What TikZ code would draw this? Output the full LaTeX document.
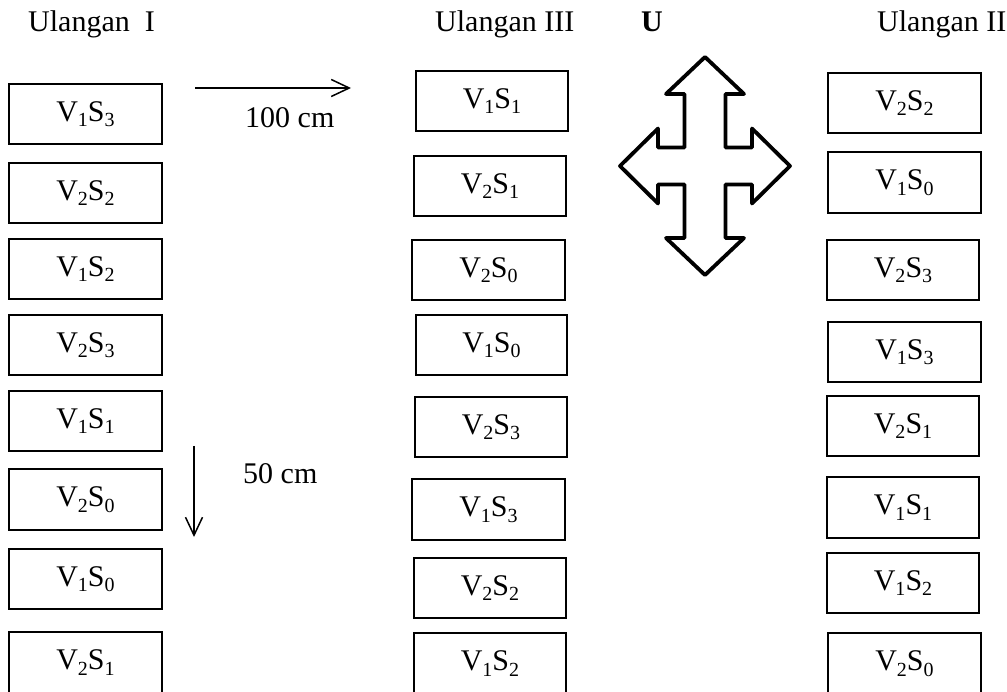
\documentclass[tikz,border=0pt]{standalone}
\usepackage{fontspec}
\setmainfont{Liberation Serif}
\usetikzlibrary{arrows.meta}
\tikzset{
  cell/.style={draw, line width=1.4pt, inner sep=0pt, font=\fontsize{30}{36}\selectfont},
  hdr/.style={anchor=base west, inner sep=0pt, font=\fontsize{30}{36}\selectfont},
  lbl/.style={anchor=base west, inner sep=0pt, font=\fontsize{30}{36}\selectfont},
  dirarrow/.style={line width=1.5pt, -{Straight Barb[length=18pt,width=17pt,line width=1.5pt]}},
  cross/.style={line width=3.8pt, line join=round, draw=black, fill=white}
}
\newcommand{\sbs}[1]{\raisebox{-0.18em}{\fontsize{20}{20}\selectfont #1}}
\newcommand{\vs}[2]{V\sbs{#1}S\sbs{#2}}
\newcommand{\cellbox}[6]{% name, x1, x2, y1, y2, text
  \node[cell, minimum width={#3-#2}, minimum height={#5-#4}] (#1) at ({(#2+#3)/2},{(#4+#5)/2}) {#6};}
\begin{document}
\begin{tikzpicture}[x=1pt, y=-1pt]
\useasboundingbox (0,0) rectangle (1007,692);
% headers
\node[hdr] (h1) at (28,32) {Ulangan\ \ I};
\node[hdr] (h3) at (435,32) {Ulangan III};
\node[hdr, anchor=base] (hu) at (652,32) {\textbf{U}};
\node[hdr] (h2) at (877,32) {Ulangan II};
% column Ulangan I
\cellbox{a1}{9}{162}{84}{144}{\vs13}
\cellbox{a2}{9}{162}{163}{223}{\vs22}
\cellbox{a3}{9}{162}{239}{299}{\vs12}
\cellbox{a4}{9}{162}{315}{375}{\vs23}
\cellbox{a5}{9}{162}{391}{451}{\vs11}
\cellbox{a6}{9}{162}{469}{530}{\vs20}
\cellbox{a7}{9}{162}{549}{609}{\vs10}
\cellbox{a8}{9}{162}{632}{693}{\vs21}
% column Ulangan III
\cellbox{b1}{416}{568}{71}{131}{\vs11}
\cellbox{b2}{414}{566}{156}{216}{\vs21}
\cellbox{b3}{412}{565}{240}{300}{\vs20}
\cellbox{b4}{416}{567}{315}{375}{\vs10}
\cellbox{b5}{415}{567}{397}{457}{\vs23}
\cellbox{b6}{412}{565}{479}{540}{\vs13}
\cellbox{b7}{414}{566}{558}{618}{\vs22}
\cellbox{b8}{414}{566}{633}{694}{\vs12}
% column Ulangan II
\cellbox{c1}{828}{981}{73}{133}{\vs22}
\cellbox{c2}{828}{981}{152}{213}{\vs10}
\cellbox{c3}{827}{979}{240}{300}{\vs23}
\cellbox{c4}{828}{981}{322}{382}{\vs13}
\cellbox{c5}{827}{979}{396}{456}{\vs21}
\cellbox{c6}{827}{979}{477}{538}{\vs11}
\cellbox{c7}{827}{979}{553}{613}{\vs12}
\cellbox{c8}{828}{981}{633}{694}{\vs20}
% distance arrows
\coordinate (r0) at (195,88);
\coordinate (r1) at (351,88);
\draw[dirarrow] (r0) -- (r1);
\node[lbl] (l100) at (245,128) {100 cm};
\coordinate (d0) at (194,446);
\coordinate (d1) at (194,537);
\draw[dirarrow] (d0) -- (d1);
\node[lbl] (l50) at (243,483) {50 cm};
% four-way arrow
\begin{scope}[shift={(705,166)}]
\draw[cross] (0,-109) -- (39,-72) -- (20.5,-72) -- (20.5,-18.5) -- (47,-18.5) -- (47,-37.5)
  -- (85,0) -- (47,37.5) -- (47,18.5) -- (20.5,18.5) -- (20.5,72) -- (39,72)
  -- (0,109) -- (-39,72) -- (-20.5,72) -- (-20.5,18.5) -- (-47,18.5) -- (-47,37.5)
  -- (-85,0) -- (-47,-37.5) -- (-47,-18.5) -- (-20.5,-18.5) -- (-20.5,-72) -- (-39,-72) -- cycle;
\end{scope}
\end{tikzpicture}
\end{document}
